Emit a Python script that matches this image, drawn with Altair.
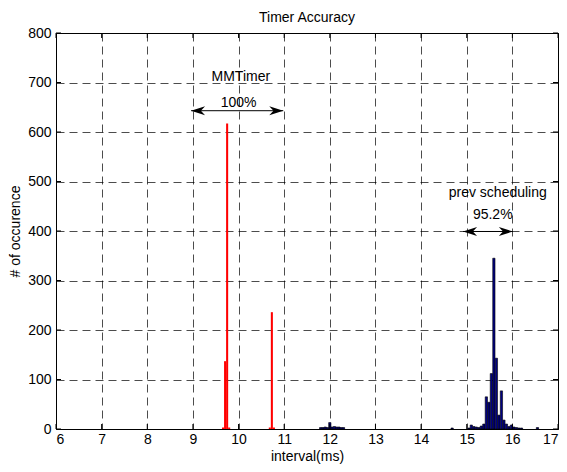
import altair as alt
import pandas as pd

# ---------------- data ----------------
x_ticks = list(range(6, 18))
y_ticks = list(range(0, 801, 100))

red_centers = [9.66, 9.705, 9.75, 9.795, 10.685, 10.73, 10.775]
red_counts = [3, 137, 617, 3, 3, 236, 3]
red_width = 0.045

blue_centers = [11.80, 11.85, 11.90, 11.95, 12.00, 12.05, 12.10, 12.15, 12.20, 12.25, 12.30,
                14.68, 15.05, 15.10, 15.155, 15.21, 15.265, 15.32, 15.375, 15.43, 15.485,
                15.54, 15.595, 15.65, 15.705, 15.76, 15.815, 15.87, 15.925, 15.98, 16.035,
                16.09, 16.145, 16.20, 16.55]
blue_counts = [3, 3, 4, 3, 13, 4, 5, 4, 4, 3, 3,
               2, 2, 8, 5, 4, 3, 6, 10, 65, 54,
               112, 345, 143, 28, 77, 18, 10, 5, 8, 4,
               3, 2, 2, 3]
blue_width = 0.05

ann_labels = ["MMTimer", "100%", "prev scheduling", "95.2%"]
ann_x = [10.05, 10.0, 15.68, 15.57]
ann_y = [712, 659, 477, 432]

arrow_x1 = [8.96, 14.92]
arrow_x2 = [10.98, 16.01]
arrow_y = [643, 399]

W, H = 502, 396
FONT = "Liberation Sans"

red_df = pd.DataFrame({
    "x0": [c - red_width / 2 for c in red_centers],
    "x1": [c + red_width / 2 for c in red_centers],
    "n": red_counts,
})
blue_df = pd.DataFrame({
    "x0": [c - blue_width / 2 for c in blue_centers],
    "x1": [c + blue_width / 2 for c in blue_centers],
    "n": blue_counts,
})
ann_df = pd.DataFrame({"label": ann_labels, "x": ann_x, "y": ann_y})
arr_df = pd.DataFrame({"x1": arrow_x1, "x2": arrow_x2, "y": arrow_y})
xt_df = pd.DataFrame({"v": x_ticks})
yt_df = pd.DataFrame({"v": y_ticks})

xs = alt.Scale(domain=[6, 17], nice=False, zero=False)
ys = alt.Scale(domain=[0, 800], nice=False)

axis_style = dict(
    grid=True, ticks=False, domain=False,
    labelFont=FONT, labelFontSize=14, labelColor="black",
    titleFont=FONT, titleFontSize=14, titleColor="black", titleFontWeight="normal",
    gridColor="black", gridDash=[8, 5], gridOpacity=0.7, gridWidth=1,
)
x_axis = alt.Axis(values=x_ticks, title="interval(ms)", labelPadding=3, titlePadding=3,
                  **axis_style)
y_axis = alt.Axis(values=y_ticks, title="# of occurence", labelPadding=5, titlePadding=5,
                  **axis_style)

red = alt.Chart(red_df).mark_rect(color="#ff0000").encode(
    x=alt.X("x0:Q", scale=xs, axis=x_axis),
    x2="x1:Q",
    y=alt.Y("n:Q", scale=ys, axis=y_axis),
    y2=alt.datum(0),
)

blue = alt.Chart(blue_df).mark_rect(fill="#00007f", stroke="#000000", strokeWidth=0.6).encode(
    x=alt.X("x0:Q", scale=xs),
    x2="x1:Q",
    y=alt.Y("n:Q", scale=ys),
    y2=alt.datum(0),
)

tick_style = dict(color="black", strokeWidth=1)
xt_bottom = alt.Chart(xt_df).mark_rule(**tick_style).encode(
    x=alt.X("v:Q", scale=xs), y=alt.value(H), y2=alt.value(H - 5))
xt_top = alt.Chart(xt_df).mark_rule(**tick_style).encode(
    x=alt.X("v:Q", scale=xs), y=alt.value(0), y2=alt.value(5))
yt_left = alt.Chart(yt_df).mark_rule(**tick_style).encode(
    y=alt.Y("v:Q", scale=ys), x=alt.value(0), x2=alt.value(5))
yt_right = alt.Chart(yt_df).mark_rule(**tick_style).encode(
    y=alt.Y("v:Q", scale=ys), x=alt.value(W), x2=alt.value(W - 5))

texts = alt.Chart(ann_df).mark_text(font=FONT, fontSize=14, color="black",
                                    baseline="middle", align="center").encode(
    x=alt.X("x:Q", scale=xs), y=alt.Y("y:Q", scale=ys), text="label:N")

arrow_line = alt.Chart(arr_df).mark_rule(color="black", strokeWidth=1).encode(
    x=alt.X("x1:Q", scale=xs), x2="x2:Q", y=alt.Y("y:Q", scale=ys))

left_head = alt.Chart(arr_df).mark_point(
    shape="M0,0 L2,-0.65 L1.4,0 L2,0.65 Z", filled=True, color="black",
    size=196, opacity=1).encode(
    x=alt.X("x1:Q", scale=xs), y=alt.Y("y:Q", scale=ys))
right_head = alt.Chart(arr_df).mark_point(
    shape="M0,0 L-2,-0.65 L-1.4,0 L-2,0.65 Z", filled=True, color="black",
    size=196, opacity=1).encode(
    x=alt.X("x2:Q", scale=xs), y=alt.Y("y:Q", scale=ys))

chart = alt.layer(
    red, blue, xt_bottom, xt_top, yt_left, yt_right,
    arrow_line, left_head, right_head, texts,
).properties(
    width=W, height=H,
    background="white",
    title=alt.TitleParams("Timer Accuracy", font=FONT, fontSize=14,
                          fontWeight="normal", color="black", offset=1),
    autosize=alt.AutoSizeParams(type="none"),
    padding={"left": 48, "top": 25, "right": 1, "bottom": 35},
).configure_view(
    stroke="black", strokeWidth=1, fill="white"
)

chart.save("out.html", embed_options={"renderer": "svg", "actions": False})
